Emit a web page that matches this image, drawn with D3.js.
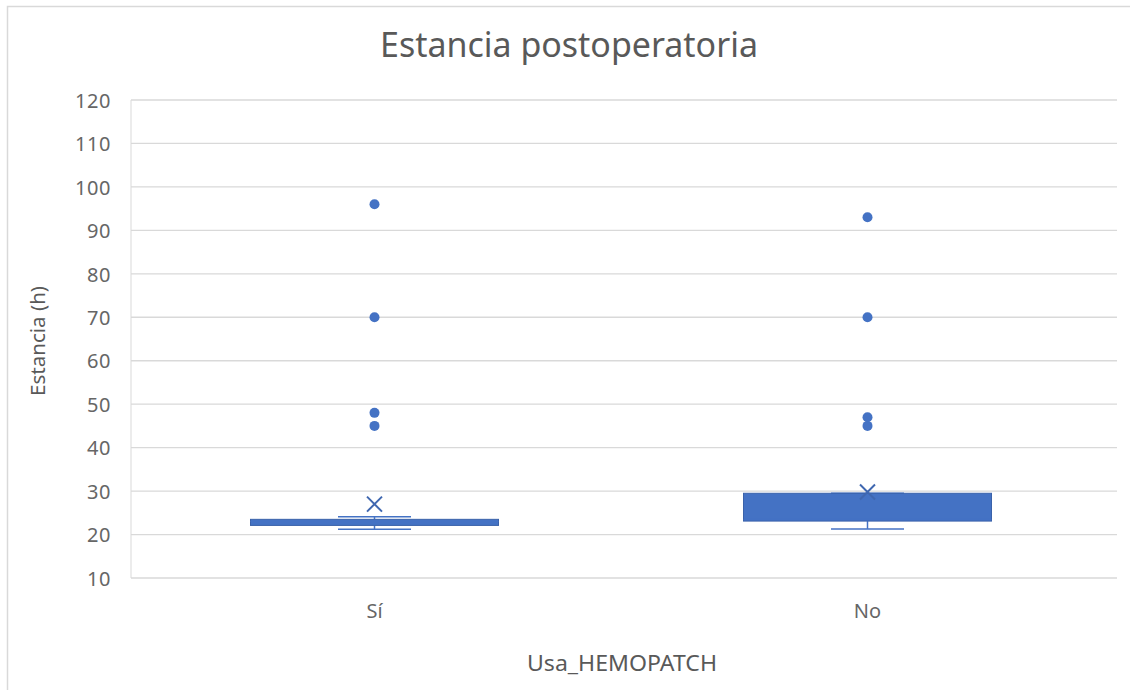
<!DOCTYPE html>
<html><head><meta charset="utf-8">
<script src="https://cdn.jsdelivr.net/npm/d3@7"></script>
<style>body{margin:0;background:#fff}svg{display:block}text{font-family:"Noto Sans","Open Sans",sans-serif;fill:#595959}</style>
</head><body>
<svg id="c" width="1130" height="690"></svg>
<script>
const categories = ["Sí", "No"];
const whiskerLow = [21.2, 21.3];
const q1 = [22.1, 23.1];
const median = [23, 23.5];
const q3 = [23.5, 29.5];
const whiskerHigh = [24.1, 29.5];
const means = [27.0, 29.8];
const outliers = [[96, 70, 48, 45], [93, 70, 47, 45]];
const yTicks = [10, 20, 30, 40, 50, 60, 70, 80, 90, 100, 110, 120];

const svg = d3.select("#c");
const m = {l: 131, r: 1117, t: 100, b: 578};
const blue = "#4472C4";
const ff = '"Noto Sans","Open Sans",sans-serif';

// outer border
svg.append("rect").attr("x", 7.5).attr("y", 6.5).attr("width", 1140).attr("height", 700)
  .attr("fill", "none").attr("stroke", "#d9d9d9").attr("stroke-width", 1.5);

const x = d3.scaleBand().domain(categories).range([m.l, m.r]);
const y = d3.scaleLinear().domain([10, 120]).range([m.b, m.t]);

// gridlines
svg.append("g").selectAll("line").data(yTicks).join("line")
  .attr("x1", m.l).attr("x2", m.r).attr("y1", d => y(d)).attr("y2", d => y(d))
  .attr("stroke", "#d9d9d9").attr("stroke-width", 1.3);
svg.append("line").attr("x1", m.l).attr("x2", m.l).attr("y1", m.t).attr("y2", m.b)
  .attr("stroke", "#d9d9d9").attr("stroke-width", 1);

// y axis labels
const ya = svg.append("g").attr("transform", `translate(${m.l},0)`)
  .call(d3.axisLeft(y).tickValues(yTicks).tickSize(0).tickPadding(20));
ya.select(".domain").remove();
ya.selectAll("text").attr("font-size", 20).attr("dy", "0.36em").style("fill", "#666")
  .style("letter-spacing", "0.6px").style("font-family", ff);

// x axis labels
const xa = svg.append("g").attr("transform", `translate(0,${m.b})`)
  .call(d3.axisBottom(x).tickSize(0).tickPadding(26));
xa.select(".domain").remove();
xa.selectAll("text").attr("font-size", 20).attr("dx", -3).style("fill", "#666").style("font-family", ff);

const boxW = 248, capW = 73;
categories.forEach((c, i) => {
  const cx = x(c) + x.bandwidth() / 2 - 3;
  const g = svg.append("g");
  g.append("line").attr("x1", cx).attr("x2", cx).attr("y1", y(whiskerLow[i])).attr("y2", y(q1[i]))
    .attr("stroke", blue).attr("stroke-width", 1.5);
  g.append("line").attr("x1", cx).attr("x2", cx).attr("y1", y(whiskerHigh[i])).attr("y2", y(q3[i]))
    .attr("stroke", blue).attr("stroke-width", 1.5);
  [whiskerLow[i], whiskerHigh[i]].forEach(v => {
    g.append("line").attr("x1", cx - capW / 2).attr("x2", cx + capW / 2).attr("y1", y(v)).attr("y2", y(v))
      .attr("stroke", blue).attr("stroke-width", 1.5);
  });
  g.append("rect").attr("x", cx - boxW / 2).attr("width", boxW)
    .attr("y", y(q3[i])).attr("height", y(q1[i]) - y(q3[i]))
    .attr("fill", blue).attr("stroke", "#3a62aa").attr("stroke-width", 1);
  g.append("line").attr("x1", cx - boxW / 2).attr("x2", cx + boxW / 2).attr("y1", y(median[i])).attr("y2", y(median[i]))
    .attr("stroke", blue).attr("stroke-width", 1);
  const my = y(means[i]), s = 7.5;
  g.append("path").attr("d", `M${cx - s},${my - s}L${cx + s},${my + s}M${cx - s},${my + s}L${cx + s},${my - s}`)
    .attr("stroke", "#3f67b0").attr("stroke-width", 2).attr("fill", "none");
  g.selectAll("ellipse").data(outliers[i]).join("ellipse")
    .attr("cx", cx).attr("cy", d => y(d)).attr("rx", 5).attr("ry", 5).attr("fill", blue);
});

// titles
svg.append("text").attr("x", 569).attr("y", 57).attr("text-anchor", "middle")
  .attr("font-size", 34).attr("textLength", 378).attr("lengthAdjust", "spacingAndGlyphs")
  .text("Estancia postoperatoria");
svg.append("text").attr("transform", `translate(45,341) rotate(-90)`).attr("text-anchor", "middle")
  .attr("font-size", 20).attr("textLength", 110).attr("lengthAdjust", "spacingAndGlyphs")
  .text("Estancia (h)");
svg.append("text").attr("x", 622).attr("y", 671).attr("text-anchor", "middle")
  .attr("font-size", 21).attr("textLength", 190).attr("lengthAdjust", "spacingAndGlyphs")
  .text("Usa_HEMOPATCH");
</script>
</body></html>
